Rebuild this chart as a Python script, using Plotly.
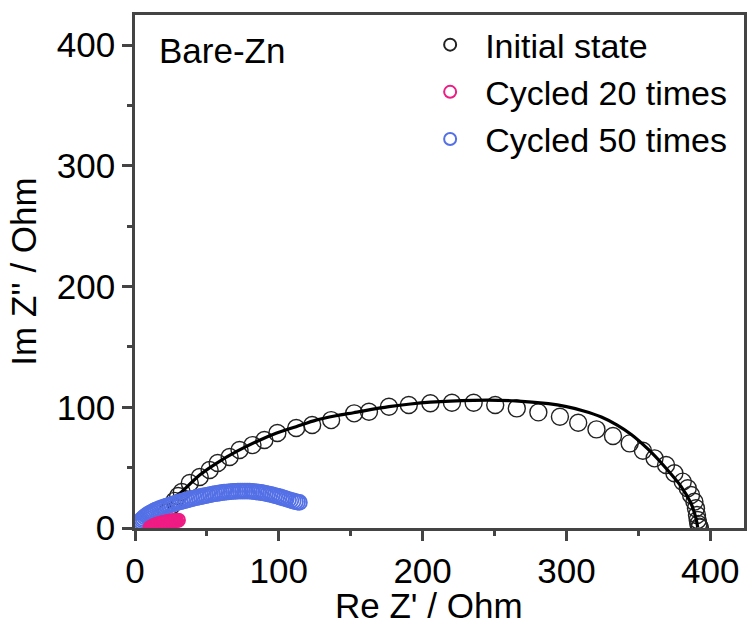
import plotly.graph_objects as go

# Nyquist data for bare Zn electrode (Re Z' vs -Im Z'')
init_re = [22, 25, 27.5, 30, 32.5, 38.1, 45, 51.9, 57.5, 65.8, 72.7, 81.7, 90, 99,
           112.1, 123.2, 136.4, 152.4, 162.7, 176.6, 190.4, 205.4, 220.4, 235.5,
           250.5, 265.5, 280.5, 295.5, 308.2, 320.9, 332.4, 344, 353.2, 361.3,
           369.3, 375.1, 380.9, 384.4, 386.7, 389, 390.1, 390.8, 391.3, 391.8,
           392.5, 392.8]
init_im = [13, 18, 22.5, 26.5, 29.8, 37.3, 42.2, 48, 53.8, 58.8, 64.6, 68.7, 72.9,
           78.7, 82.8, 85.3, 89.4, 95, 96.3, 100.5, 101.9, 103.3, 103.8, 103.8,
           101.9, 99.1, 95.8, 92.2, 87.2, 81.7, 76.2, 70.1, 64, 57.7, 52.2, 45.3,
           38.4, 32.9, 27.3, 21.8, 16.3, 10.8, 6.6, 3.3, 1.1, 0.3]

# Equivalent-circuit fit of the initial state
fit_re = [16, 19, 23, 27.7, 31.2, 45, 56.6, 70.4, 84.3, 98.1, 112, 125.8, 139.7,
          152, 176.6, 205.4, 235.5, 264.3, 287.4, 300, 312, 324.3, 335, 345.1,
          356.6, 368.2, 379.7, 386.6, 390.1, 391.3]
fit_im = [0, 6, 15, 25.9, 28.7, 43.9, 53.6, 63.2, 71.5, 78.5, 83.9, 89.4, 93,
          95.5, 100.5, 104.3, 105.8, 105.4, 103, 100.5, 97, 92, 85.5, 77.5,
          65.5, 51, 34.5, 20.5, 8, 0.5]

c20_re = [10.5, 11.3, 12.1, 12.9, 13.7, 14.5, 15.3, 16.1, 16.9, 17.7, 18.5, 19.3,
          20.1, 20.9, 21.7, 22.5, 23.3, 24.1, 24.9, 25.7, 26.5, 27.3, 28.1, 29.0,
          30.2]
c20_im = [0.3, 0.8, 1.3, 1.8, 2.2, 2.6, 3.0, 3.3, 3.6, 3.9, 4.2, 4.4, 4.6, 4.8,
          5.0, 5.2, 5.4, 5.6, 5.8, 5.9, 6.0, 6.1, 6.2, 6.3, 6.5]

c50_re = [1.8, 2.2, 2.7, 3.3, 4.0, 4.8, 5.7, 6.7, 7.8, 9.0, 10.3, 11.6, 13.0, 14.4,
          15.9, 17.4, 18.9, 20.4, 22.0, 23.6, 25.2, 26.8, 28.4, 30.0, 31.6, 33.2,
          34.8, 36.4, 38.0, 39.6, 41.2, 42.8, 44.4, 46.0, 47.6, 49.2, 50.8, 52.4,
          54.0, 55.6, 57.2, 58.8, 60.4, 62.0, 63.6, 65.2, 66.8, 68.4, 70.0, 71.6,
          73.2, 74.8, 76.4, 78.0, 79.6, 81.2, 82.8, 84.4, 86.0, 87.6, 89.2, 90.8,
          92.4, 94.0, 95.6, 97.2, 98.8, 100.4, 102.0, 103.6, 105.2, 106.8, 108.4,
          110.0, 111.6, 113.0, 114.3]
c50_im = [1.0, 2.2, 3.4, 4.6, 5.8, 7.0, 8.1, 9.2, 10.2, 11.2, 12.1, 13.0, 13.9,
          14.7, 15.5, 16.2, 16.9, 17.5, 18.2, 18.8, 19.4, 20.0, 20.6, 21.2, 21.8,
          22.3, 22.8, 23.3, 23.8, 24.3, 24.8, 25.3, 25.7, 26.1, 26.5, 26.9, 27.3,
          27.7, 28.1, 28.4, 28.7, 29.0, 29.3, 29.6, 29.8, 30.0, 30.2, 30.3, 30.4,
          30.5, 30.6, 30.6, 30.6, 30.6, 30.5, 30.3, 30.1, 29.9, 29.7, 29.4, 29.1,
          28.7, 28.3, 27.9, 27.4, 26.9, 26.4, 25.9, 25.3, 24.7, 24.1, 23.5, 22.9,
          22.4, 21.9, 21.5, 21.2]

x_ticks = [0, 100, 200, 300, 400]
y_ticks = [0, 100, 200, 300, 400]

FONT = "Liberation Sans, Arial, sans-serif"
FS = 35
AX = "#444444"

fig = go.Figure()
fig.add_trace(go.Scatter(
    x=init_re, y=init_im, mode="markers", name="Initial state", legendrank=1,
    marker=dict(symbol="circle-open", size=17, color="#222222", line=dict(width=1.4)),
))
fig.add_trace(go.Scatter(
    x=fit_re, y=fit_im, mode="lines", showlegend=False,
    line=dict(color="black", width=3.2, shape="spline", smoothing=0.8),
))
fig.add_trace(go.Scatter(
    x=c50_re, y=c50_im, mode="markers", name="Cycled 50 times", legendrank=3,
    marker=dict(symbol="circle-open", size=15, color="#5470E6", line=dict(width=1.8)),
))
fig.add_trace(go.Scatter(
    x=c20_re, y=c20_im, mode="markers", name="Cycled 20 times", legendrank=2,
    marker=dict(symbol="circle-open", size=13, color="#EE1C84", line=dict(width=2)),
))

axis_common = dict(
    showgrid=False, zeroline=False, showline=True, linecolor=AX, linewidth=2.5,
    mirror=True, ticks="outside", ticklen=10, tickwidth=2.5, tickcolor=AX,
    tickfont=dict(family=FONT, size=FS, color="black"),
    minor=dict(ticks="outside", ticklen=5, tickwidth=2.5, tickcolor=AX, dtick=50),
)

fig.update_xaxes(range=[0, 423.5], tickvals=x_ticks, **axis_common)
fig.update_yaxes(range=[0, 425], tickvals=y_ticks,
                 title=dict(text="Im Z'' / Ohm", font=dict(family=FONT, size=FS, color="black"),
                            standoff=10),
                 **axis_common)

fig.add_annotation(text="Re Z' / Ohm", xref="paper", yref="paper", x=0.482, y=-0.152,
                   xanchor="center", yanchor="middle", showarrow=False,
                   font=dict(family=FONT, size=FS, color="black"))
fig.add_annotation(text="Bare-Zn", xref="paper", yref="paper", x=0.036, y=0.93,
                   xanchor="left", yanchor="middle", showarrow=False,
                   font=dict(family=FONT, size=FS, color="black"))

fig.update_layout(
    width=748, height=628,
    margin=dict(l=135, r=1, t=15, b=100),
    paper_bgcolor="white", plot_bgcolor="white",
    legend=dict(x=0.46, y=0.998, xanchor="left", yanchor="top", itemwidth=60,
                bgcolor="rgba(0,0,0,0)", font=dict(family=FONT, size=34, color="black"),
                itemsizing="constant"),
)

fig.write_html("out.html")
